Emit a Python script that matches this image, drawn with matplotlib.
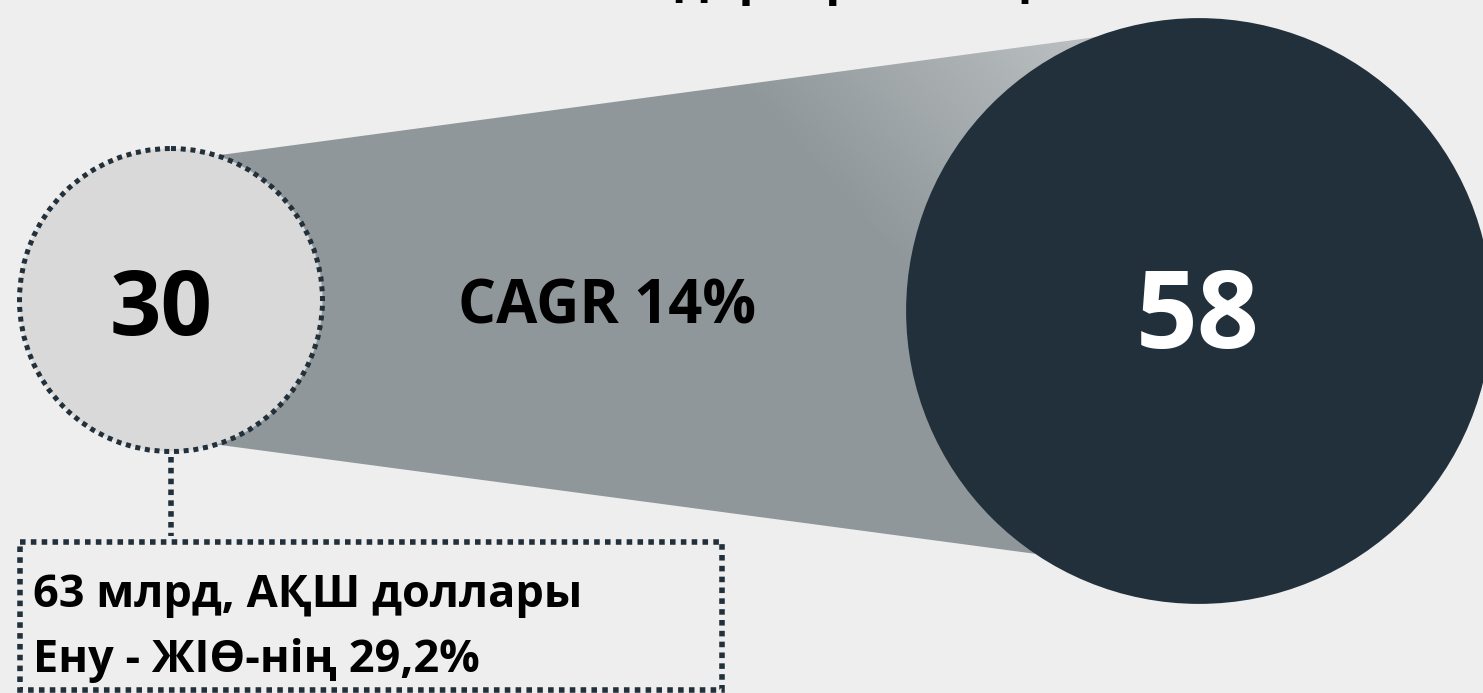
#!/usr/bin/env python3
# -*- coding: utf-8 -*-

import numpy as np
import matplotlib
matplotlib.use('Agg')
import matplotlib.pyplot as plt
from matplotlib.patches import Circle, Polygon, Rectangle

# chart values
values = [30, 58]
value_labels = ['30', '58']
cagr_label = 'CAGR 14%'
note_lines = ['63 млрд, АҚШ доллары', 'Ену - ЖІӨ-нің 29,2%']
title = 'Салымдар, трлн теңге'

# layout (pixels, y grows downward)
W, H = 1483, 693
PX_PER_UNIT = 5.05
centers = [(171, 300), (1199, 311)]
cone_angles = [(72.5, -72.5), (110.8, -124.0)]

BG = '#eeeeee'
DARK = '#21303a'
FONT = 'Open Sans'
DOTS = (0, (1, 0.95))
DOT_LW = 4.0


def circle_point(center, radius, angle):
    a = np.deg2rad(angle)
    return center[0] + radius * np.cos(a), center[1] - radius * np.sin(a)


def draw_cone(ax, radii):
    """Gradient filled band between the two circles."""
    p1 = circle_point(centers[0], radii[0], cone_angles[0][0])
    p2 = circle_point(centers[1], radii[1], cone_angles[1][0])
    p3 = circle_point(centers[1], radii[1], cone_angles[1][1])
    p4 = circle_point(centers[0], radii[0], cone_angles[0][1])
    poly = Polygon([p1, p2, p3, p4], closed=True, facecolor='none',
                   edgecolor='none')
    ax.add_patch(poly)

    # linear ramp, flat grey until a diagonal, lighter toward the top right
    xx, yy = np.meshgrid(np.arange(W) + 0.5, np.arange(H) + 0.5)
    nx, ny = 0.745, -0.667
    t = ((xx - 738) * nx + (yy - 84) * ny) / 300
    t = np.clip(t, 0, 1)
    c0 = np.array(matplotlib.colors.to_rgb('#8f979a'))
    c1 = np.array(matplotlib.colors.to_rgb('#bdc1c3'))
    img = c0 + (c1 - c0) * t[..., None]
    im = ax.imshow(img, extent=(0, W, H, 0), origin='upper',
                   interpolation='bilinear', zorder=1)
    im.set_clip_path(poly)


def main():
    fig = plt.figure(figsize=(W / 100, H / 100), dpi=100, facecolor=BG)
    ax = fig.add_axes([0, 0, 1, 1])
    ax.set_facecolor(BG)
    ax.set_xlim(0, W)
    ax.set_ylim(H, 0)
    ax.axis('off')

    radii = [v * PX_PER_UNIT for v in values]
    draw_cone(ax, radii)

    # start circle, dotted rim
    small = Circle(centers[0], radii[0], facecolor='#d9d9d9',
                   edgecolor=DARK, linewidth=3.6, linestyle=DOTS, zorder=3)
    ax.add_patch(small)
    # end circle
    big = Circle(centers[1], radii[1], facecolor=DARK, edgecolor='none',
                 zorder=3)
    ax.add_patch(big)

    ax.text(161, 312, value_labels[0], fontsize=65, fontweight='bold',
            family=FONT, color='black', ha='center', va='center', zorder=5)
    ax.text(1198, 320, value_labels[1], fontsize=78, fontweight='bold',
            family=FONT, color='white', ha='center', va='center', zorder=5)
    ax.text(607, 308, cagr_label, fontsize=43, fontweight='bold',
            family=FONT, color='black', ha='center', va='center', zorder=5)

    # connector and note box
    ax.plot([centers[0][0], centers[0][0]],
            [centers[0][1] + radii[0] + 5, 536],
            color=DARK, linewidth=DOT_LW, linestyle=DOTS,
            dash_capstyle='butt', zorder=2)
    box = Rectangle((20, 542), 702, 148, facecolor='none', edgecolor=DARK,
                    linewidth=DOT_LW, linestyle=DOTS, zorder=4)
    ax.add_patch(box)
    for i, line in enumerate(note_lines):
        ax.text(33, 607 + i * 65, line, fontsize=32.5, fontweight='bold',
                family=FONT, color='black', ha='left', va='baseline',
                zorder=5)

    # title sits above the canvas, only descenders show
    ax.text(790, -6, title, fontsize=36, fontweight='bold', family=FONT,
            color='black', ha='center', va='baseline', zorder=5)

    fig.savefig('out.png', dpi=100, facecolor=BG)


if __name__ == '__main__':
    main()
